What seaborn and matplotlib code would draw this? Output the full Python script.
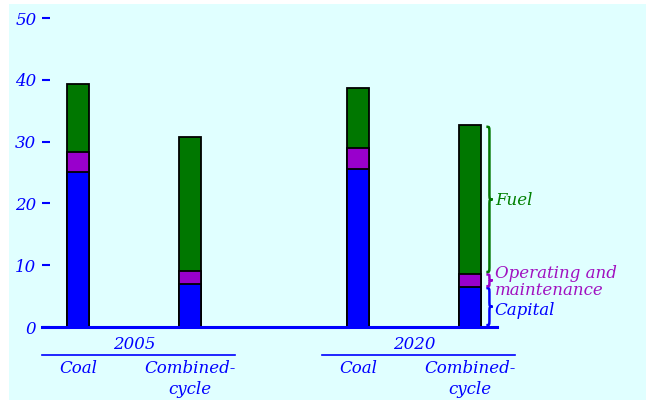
import numpy as np
import pandas as pd
import matplotlib
matplotlib.use('Agg')
import matplotlib.pyplot as plt
import seaborn as sns
from matplotlib.patches import Rectangle, PathPatch
from matplotlib.path import Path

# data
years = ["2005", "2020"]
plants = ["Coal", "Combined-\ncycle"]
capital = [25.1, 7.0, 25.6, 6.5]
om = [3.2, 2.1, 3.4, 2.1]
fuel = [11.0, 21.6, 9.7, 24.1]
y_ticks = [0, 10, 20, 30, 40, 50]

BLUE = '#0000ff'
PURPLE = '#9900cc'
GREEN = '#007700'
BG = '#e0ffff'

plt.rcParams['font.family'] = ['DejaVu Serif']
plt.rcParams['font.style'] = 'italic'
FS = 12

# layout: two groups, second one shifted
pos = [g * 2.5 + p for g in range(len(years)) for p in range(len(plants))]
df = pd.DataFrame({
    'pos': pos,
    'capital': capital,
    'cap_om': np.add(capital, om),
    'total': np.add(np.add(capital, om), fuel),
})

fig = plt.figure(figsize=(6.46, 4), dpi=100)
fig.patch.set_facecolor('white')
fig.add_artist(Rectangle((9 / 646, 0), 1, 396 / 400, transform=fig.transFigure,
                         facecolor=BG, edgecolor='none', zorder=-10))
ax = fig.add_axes([42 / 646, 73 / 400, 455 / 646, 317 / 400])
ax.set_facecolor('none')

# stacked bars, drawn from the top segment down
for col, c in [('total', GREEN), ('cap_om', PURPLE), ('capital', BLUE)]:
    sns.barplot(data=df, x='pos', y=col, native_scale=True, orient='x', width=0.2,
                color=c, saturation=1, edgecolor='black', linewidth=1.3,
                errorbar=None, ax=ax)

ax.set_xlim(-0.32, 3.74)
ax.set_ylim(0, 51.3)
ax.set_xlabel('')
ax.set_ylabel('')
ax.set_xticks([])
ax.set_yticks(y_ticks)
ax.set_yticklabels([str(v) for v in y_ticks], fontsize=FS, color=BLUE)
ax.tick_params(axis='y', direction='in', length=6, width=1.5, color=BLUE, pad=4)
for s in ['left', 'right', 'top']:
    ax.spines[s].set_visible(False)
ax.spines['bottom'].set_color(BLUE)
ax.spines['bottom'].set_linewidth(2.2)

# group labels under the axis
for g, yr in enumerate(years):
    left = pos[g * 2] - 0.32
    right = pos[g * 2 + 1] + 0.4
    mid = (pos[g * 2] + pos[g * 2 + 1]) / 2
    ax.text(mid, -2.9, yr, ha='center', va='center', fontsize=FS, color=BLUE, clip_on=False)
    ax.plot([left, right], [-4.6, -4.6], color=BLUE, lw=1.2, clip_on=False)
    for p, name in enumerate(plants):
        ax.text(pos[g * 2 + p], -5.3, name, ha='center', va='top', fontsize=FS,
                color=BLUE, linespacing=1.3, multialignment='center', clip_on=False)


def brace(ax, x, y0, y1, w, color):
    ym = (y0 + y1) / 2
    d = min(1.0, (y1 - y0) / 4)
    h = x + w / 2
    verts = [(x, y0), (h, y0), (h, y0), (h, y0 + d),
             (h, ym - d),
             (h, ym), (h, ym), (x + w, ym),
             (h, ym), (h, ym), (h, ym + d),
             (h, y1 - d),
             (h, y1), (h, y1), (x, y1)]
    codes = [Path.MOVETO, Path.CURVE4, Path.CURVE4, Path.CURVE4,
             Path.LINETO,
             Path.CURVE4, Path.CURVE4, Path.CURVE4,
             Path.CURVE4, Path.CURVE4, Path.CURVE4,
             Path.LINETO,
             Path.CURVE4, Path.CURVE4, Path.CURVE4]
    ax.add_patch(PathPatch(Path(verts, codes), facecolor='none', edgecolor=color,
                           lw=1.8, clip_on=False))


# braces next to the last bar
bx = pos[-1] + 0.145
cap, co, tot = df['capital'].iloc[-1], df['cap_om'].iloc[-1], df['total'].iloc[-1]
brace(ax, bx, 0.3, cap - 0.2, 0.055, BLUE)
brace(ax, bx, cap + 0.1, co - 0.1, 0.055, PURPLE)
brace(ax, bx, co + 0.3, tot - 0.3, 0.055, GREEN)
tx = bx + 0.075
ax.text(tx, (co + tot) / 2 - 0.1, 'Fuel', ha='left', va='center', fontsize=FS,
        color='#008000', clip_on=False)
ax.text(tx, co - 1.3, 'Operating and\nmaintenance', ha='left', va='center', fontsize=FS,
        color='#a010c0', linespacing=0.95, clip_on=False)
ax.text(tx, cap / 2 - 0.5, 'Capital', ha='left', va='center', fontsize=FS,
        color=BLUE, clip_on=False)

fig.savefig('out.png', dpi=100, facecolor=fig.get_facecolor())
